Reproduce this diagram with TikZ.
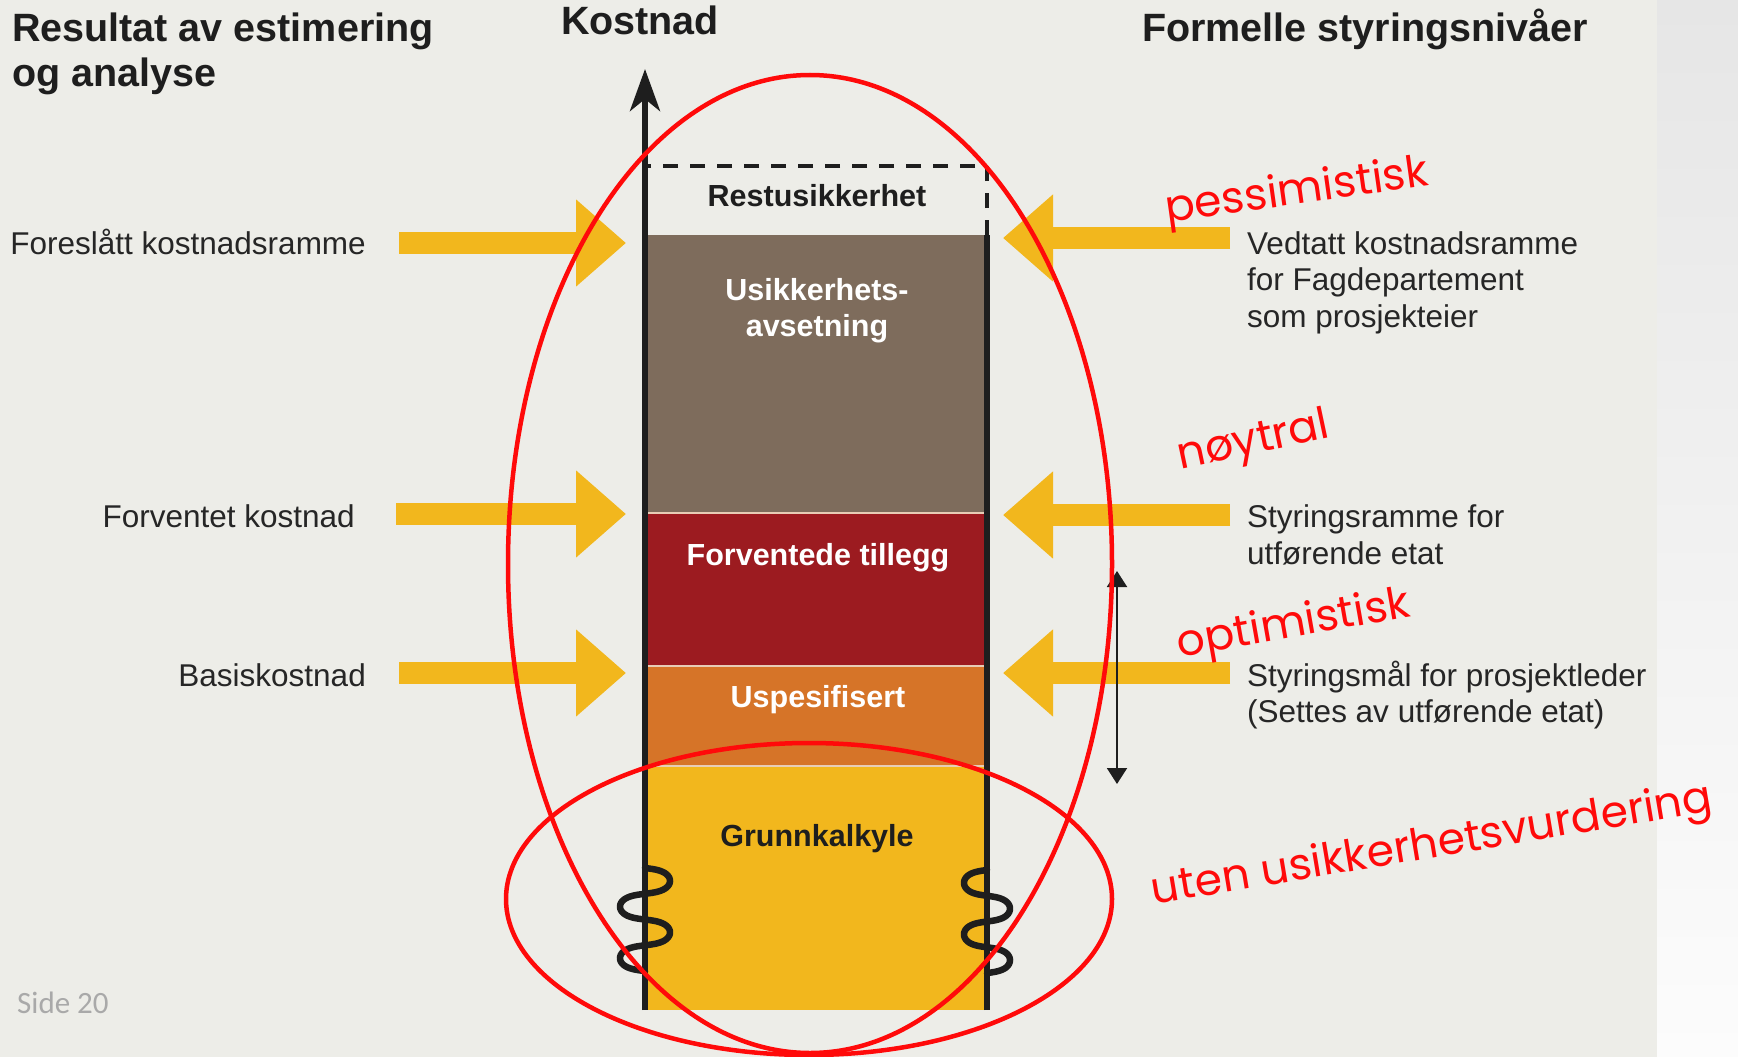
\documentclass[tikz,border=0pt]{standalone}
\usepackage{fontspec}
\setmainfont{Liberation Sans}
\newfontfamily\handfont{Poppins}
\newfontfamily\pagefont{Carlito}
\usetikzlibrary{arrows.meta}

\definecolor{panelbg}{HTML}{EDEDE8}
\definecolor{stripTop}{HTML}{E6E6E6}
\definecolor{stripBot}{HTML}{FCFCFC}
\definecolor{brownbox}{HTML}{7E6C5C}
\definecolor{redbox}{HTML}{9C1B20}
\definecolor{orangebox}{HTML}{D67428}
\definecolor{yellowbox}{HTML}{F2B71D}
\definecolor{arrowyellow}{HTML}{F2B71D}
\definecolor{sepline}{HTML}{E8CDB6}
\definecolor{inkdark}{HTML}{1E1E1E}
\definecolor{labeltext}{HTML}{262626}
\definecolor{markred}{HTML}{FF0A0A}
\definecolor{pagegray}{HTML}{A9A9A9}

\begin{document}
\begin{tikzpicture}[x=1pt,y=-1pt,
  heading/.style={font=\fontsize{39.5}{46}\selectfont\bfseries, text=inkdark, inner sep=0pt},
  sidelabel/.style={font=\fontsize{31.5}{37}\selectfont, text=labeltext, inner sep=0pt},
  boxlabel/.style={font=\fontsize{30.5}{36}\selectfont\bfseries, inner sep=0pt, anchor=base},
  blockarrow/.style={draw=arrowyellow, line width=22pt,
    -{Triangle[length=50pt,width=84pt]}},
  axisline/.style={draw=inkdark, line width=6pt,
    -{Stealth[length=42pt,width=30pt,inset=12pt]}},
  colline/.style={draw=inkdark, line width=6pt},
  dashline/.style={draw=inkdark, line width=4.5pt, dash pattern=on 15pt off 12pt},
  coil/.style={draw=inkdark, line width=6.5pt, line cap=round},
  sepstroke/.style={draw=sepline, line width=2.5pt},
  rangearrow/.style={draw=inkdark, line width=2pt,
    {Triangle[length=16pt,width=20pt]}-{Triangle[length=16pt,width=20pt]}},
  markring/.style={draw=markred, line width=4.5pt},
  hand/.style={font=\handfont\fontsize{44}{50}\selectfont, text=markred, inner sep=0pt}]

\useasboundingbox (0,0) rectangle (1738,1057);

% page background and the lighter strip at the right edge
\fill[panelbg] (0,0) rectangle (1657,1057);
\shade[top color=stripTop, bottom color=stripBot] (1657,0) rectangle (1738,1057);

% headings
\node[heading, anchor=base west] (hres) at (12,42) {Resultat av estimering};
\node[heading, anchor=base west] (hana) at (12,87) {og analyse};
\node[heading, anchor=base] (hkost) at (640,35) {Kostnad};
\node[heading, anchor=base west] (hform) at (1142,42) {Formelle styringsnivåer};

% stacked cost column
\fill[brownbox]  (645,235) rectangle (988,513);
\fill[redbox]    (645,513) rectangle (988,666);
\fill[orangebox] (645,666) rectangle (988,766);
\fill[yellowbox] (645,766) rectangle (988,1010);
\draw[sepstroke] (648,513) -- (985,513);
\draw[sepstroke] (648,666) -- (985,666);
\draw[sepstroke] (648,766) -- (985,766);

% column labels
\node[boxlabel, text=inkdark] (lrest) at (817,206) {Restusikkerhet};
\node[boxlabel, text=white] (lusik1) at (817,300) {Usikkerhets-};
\node[boxlabel, text=white] (lusik2) at (817,336) {avsetning};
\node[boxlabel, text=white] (lforv) at (818,565) {Forventede tillegg};
\node[boxlabel, text=white] (luspe) at (818,707) {Uspesifisert};
\node[boxlabel, text=inkdark] (lgrunn) at (817,846) {Grunnkalkyle};

% cost axis and column borders
\coordinate (axisfoot) at (645,1010);
\coordinate (axistip) at (645,69);
\coordinate (rfoot) at (987,1010);
\coordinate (rtop) at (987,235);
\coordinate (rcorner) at (987,166);
\coordinate (lcorner) at (645,166);
\draw[axisline] (axisfoot) -- (axistip);
\draw[colline] (rfoot) -- (rtop);
\draw[dashline] (rtop) -- (rcorner) -- (lcorner);

% axis break marks (coil-shaped squiggles over both borders)
\draw[coil] plot[domain=0:4*pi, samples=120, smooth, variable=\t]
  ({645+25*sin(\t r)}, {868+8.2*\t-2.6*sin(2*\t r)});
\draw[coil] plot[domain=0:4*pi, samples=120, smooth, variable=\t]
  ({987-23*sin(\t r)}, {870+8.2*\t-2.6*sin(2*\t r)});

% left side: results of estimation
\node[sidelabel, anchor=base east] (lfores) at (366,254) {Foreslått kostnadsramme};
\node[sidelabel, anchor=base east] (lforvk) at (355,527) {Forventet kostnad};
\node[sidelabel, anchor=base east] (lbasis) at (366,686) {Basiskostnad};

\coordinate (la1) at (399,243);  \coordinate (lt1) at (626,243);
\coordinate (la2) at (396,514);  \coordinate (lt2) at (626,514);
\coordinate (la3) at (399,673);  \coordinate (lt3) at (626,673);
\draw[blockarrow] (la1) -- (lt1);
\draw[blockarrow] (la2) -- (lt2);
\draw[blockarrow] (la3) -- (lt3);

% right side: formal control levels
\coordinate (ra1) at (1230,238); \coordinate (rt1) at (1003,238);
\coordinate (ra2) at (1230,515); \coordinate (rt2) at (1003,515);
\coordinate (ra3) at (1230,673); \coordinate (rt3) at (1003,673);
\draw[blockarrow] (ra1) -- (rt1);
\draw[blockarrow] (ra2) -- (rt2);
\draw[blockarrow] (ra3) -- (rt3);

\node[sidelabel, anchor=base west] (rv1) at (1247,254) {Vedtatt kostnadsramme};
\node[sidelabel, anchor=base west] (rv2) at (1247,290) {for Fagdepartement};
\node[sidelabel, anchor=base west] (rv3) at (1247,327) {som prosjekteier};
\node[sidelabel, anchor=base west] (rs1) at (1247,527) {Styringsramme for};
\node[sidelabel, anchor=base west] (rs2) at (1247,564) {utførende etat};
\node[sidelabel, anchor=base west] (rp1) at (1247,686) {Styringsmål for prosjektleder};
\node[sidelabel, anchor=base west] (rp2) at (1247,722) {(Settes av utførende etat)};

% range between control frame and control target
\coordinate (rangetop) at (1117,571);
\coordinate (rangebot) at (1117,784);
\draw[rangearrow] (rangetop) -- (rangebot);

% page number
\node[font=\pagefont\fontsize{31}{36}\selectfont, text=pagegray, inner sep=0pt,
  anchor=base west] (page) at (17,1013) {Side 20};

% hand-drawn annotations
\draw[markring] (810,564) ellipse [x radius=302, y radius=489];
\draw[markring] (809,899) ellipse [x radius=303, y radius=156];
\node[hand, rotate=8]   (npess) at (1297,193) {pessimistisk};
\node[hand, rotate=12]  (nnoyt) at (1254,443) {nøytral};
\node[hand, rotate=10]  (nopti) at (1294,626) {optimistisk};
\node[hand, rotate=9.5] (nuten) at (1432,847) {uten usikkerhetsvurdering};

\end{tikzpicture}
\end{document}
